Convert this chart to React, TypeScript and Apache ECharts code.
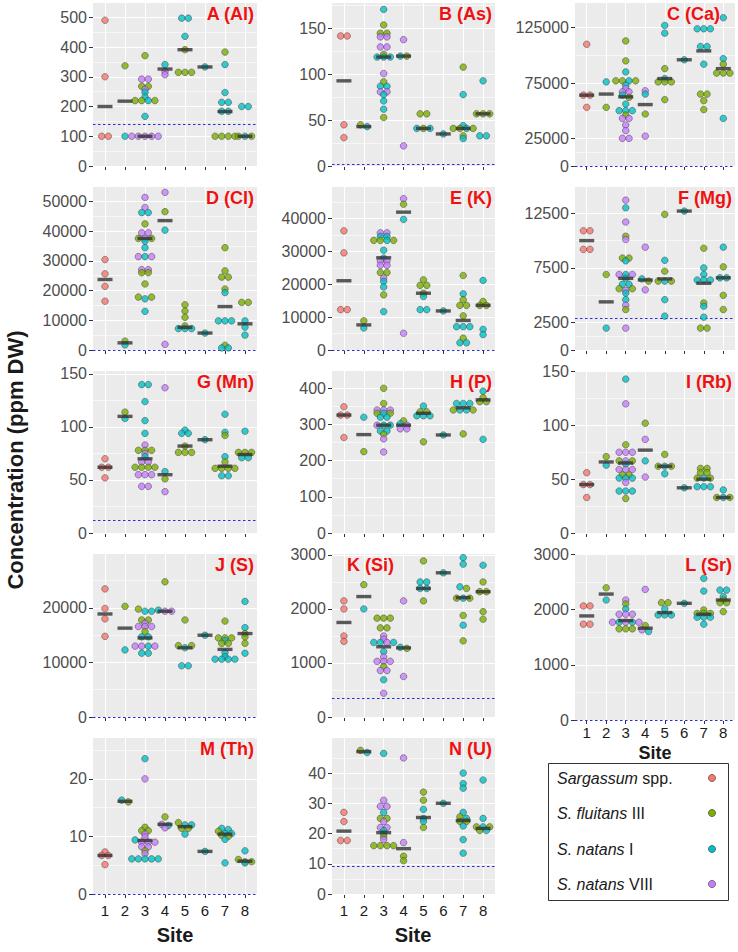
import React, { useEffect, useRef } from "react";
import * as echarts from "echarts";

type Pt = [number, string, number];

const groupCodes = ["R", "G", "C", "P"];
const groupColors = ["#F8766D", "#7CAE00", "#00BFC4", "#C77CFF"];
const groupItalic = ["Sargassum", "S. fluitans", "S. natans", "S. natans"];
const groupSuffix = [" spp.", " III", " I", " VIII"];
const siteLabels = ["1", "2", "3", "4", "5", "6", "7", "8"];
const panelTitles = ["A (Al)", "B (As)", "C (Ca)", "D (Cl)", "E (K)", "F (Mg)", "G (Mn)", "H (P)", "I (Rb)", "J (S)", "K (Si)", "L (Sr)", "M (Th)", "N (U)"];
const yMaxes = [548, 178, 147300, 54800, 49660, 14900, 152.8, 447.8, 150.5, 29900, 3018, 3005, 27.1, 51.6];
const yBreaks = [
  [0, 100, 200, 300, 400, 500],
  [0, 50, 100, 150],
  [0, 25000, 75000, 125000],
  [0, 10000, 20000, 30000, 40000, 50000],
  [0, 10000, 20000, 30000, 40000],
  [0, 2500, 7500, 12500],
  [0, 50, 100, 150],
  [0, 100, 200, 300, 400],
  [0, 50, 100, 150],
  [0, 10000, 20000],
  [0, 1000, 2000, 3000],
  [0, 1000, 2000, 3000],
  [0, 10, 20],
  [0, 10, 20, 30, 40],
];
const detectionLimits = [140, 2, 0, 0, 0, 2900, 12, null, null, 0, 340, 0, 0, 9.3];

const alMedians = [200, 218, 100, 326, 391, 333, 183, 100];
const alPts: Pt[] = [
  [1, "R", 490], [1, "R", 300], [1, "R", 100], [1, "R", 100],
  [2, "G", 337], [2, "C", 100],
  [3, "G", 371], [3, "P", 292], [3, "P", 292], [3, "G", 268], [3, "P", 258], [3, "G", 268], [3, "C", 248], [3, "C", 232],
  [3, "G", 220], [3, "G", 220], [3, "C", 220], [3, "G", 220], [3, "C", 167],
  [3, "P", 100], [3, "P", 100], [3, "P", 100], [3, "P", 100], [3, "P", 100],
  [4, "C", 341], [4, "P", 318], [4, "P", 307],
  [5, "C", 497], [5, "C", 497], [5, "C", 436], [5, "G", 391], [5, "G", 315], [5, "G", 315], [5, "G", 315],
  [6, "C", 333],
  [7, "G", 383], [7, "C", 341], [7, "C", 247], [7, "C", 214], [7, "C", 214], [7, "C", 184], [7, "C", 184],
  [7, "G", 100], [7, "G", 100], [7, "G", 100], [7, "G", 100],
  [8, "C", 200], [8, "C", 200], [8, "G", 100], [8, "C", 100], [8, "G", 100],
];

const asMedians = [93, 43, 119, 120, 41, 35, 41, 57];
const asPts: Pt[] = [
  [1, "R", 142], [1, "R", 142], [1, "R", 45], [1, "R", 31],
  [2, "G", 45], [2, "C", 43],
  [3, "C", 171], [3, "G", 154], [3, "G", 145], [3, "G", 145], [3, "P", 141], [3, "P", 141], [3, "P", 130], [3, "P", 130],
  [3, "G", 122], [3, "C", 119], [3, "C", 119], [3, "C", 119], [3, "P", 101], [3, "G", 92], [3, "C", 87], [3, "C", 87],
  [3, "P", 81], [3, "P", 81], [3, "C", 78], [3, "C", 71], [3, "C", 62], [3, "G", 53],
  [4, "P", 138], [4, "C", 120], [4, "G", 120], [4, "P", 22],
  [5, "G", 57], [5, "G", 57], [5, "C", 41], [5, "G", 41], [5, "C", 41],
  [6, "C", 35],
  [7, "G", 108], [7, "C", 78], [7, "C", 44], [7, "G", 41], [7, "G", 41], [7, "C", 41], [7, "G", 41], [7, "G", 33], [7, "C", 30],
  [8, "C", 93], [8, "G", 57], [8, "G", 57], [8, "G", 57], [8, "C", 33], [8, "C", 33],
];

const caMedians = [64000, 65000, 62500, 55500, 79000, 96000, 104000, 88000];
const caPts: Pt[] = [
  [1, "R", 110000], [1, "R", 64000], [1, "R", 64000], [1, "R", 53000],
  [2, "C", 76000], [2, "G", 53000],
  [3, "G", 113000], [3, "G", 95000], [3, "C", 85000], [3, "G", 77000], [3, "G", 77000], [3, "C", 77000], [3, "G", 77000],
  [3, "C", 73000], [3, "P", 70000], [3, "P", 67000], [3, "P", 67000], [3, "C", 64000], [3, "G", 62000], [3, "C", 56000],
  [3, "C", 50000], [3, "C", 50000], [3, "C", 50000], [3, "G", 46000], [3, "P", 43000], [3, "P", 43000], [3, "P", 37000],
  [3, "P", 32000], [3, "P", 25000], [3, "P", 25000],
  [4, "P", 68000], [4, "C", 65000], [4, "G", 47000], [4, "P", 27000],
  [5, "C", 127000], [5, "C", 120000], [5, "G", 88000], [5, "C", 79000], [5, "G", 76000], [5, "G", 76000], [5, "G", 76000], [5, "G", 60000],
  [6, "C", 96000],
  [7, "C", 124000], [7, "C", 124000], [7, "C", 124000], [7, "C", 108000], [7, "C", 108000], [7, "C", 92000],
  [7, "G", 65000], [7, "G", 65000], [7, "G", 59000], [7, "G", 51000],
  [8, "C", 134000], [8, "C", 97000], [8, "G", 92000], [8, "G", 84000], [8, "G", 84000], [8, "G", 84000], [8, "C", 43000],
];

const clMedians = [23700, 2400, 37500, 43500, 7600, 5700, 14600, 8800];
const clPts: Pt[] = [
  [1, "R", 30400], [1, "R", 25600], [1, "R", 21400], [1, "R", 16400],
  [2, "G", 3000], [2, "C", 1700],
  [3, "P", 51300], [3, "P", 47900], [3, "C", 46200], [3, "C", 46200], [3, "G", 42400], [3, "P", 39400], [3, "P", 39400],
  [3, "G", 37500], [3, "P", 37500], [3, "G", 37500], [3, "C", 36600], [3, "C", 34400], [3, "P", 31400], [3, "C", 31400],
  [3, "P", 31400], [3, "P", 27000], [3, "P", 27000], [3, "G", 26000], [3, "G", 26000], [3, "G", 22200], [3, "G", 17800],
  [3, "C", 17200], [3, "G", 17800], [3, "C", 13000],
  [4, "P", 53000], [4, "G", 46500], [4, "C", 40300], [4, "P", 1900],
  [5, "G", 15200], [5, "G", 13100], [5, "G", 11000], [5, "G", 8100], [5, "C", 7200], [5, "C", 7200], [5, "C", 7200],
  [6, "C", 5700],
  [7, "G", 34400], [7, "G", 26600], [7, "G", 24500], [7, "G", 24500], [7, "G", 20500], [7, "C", 19300],
  [7, "C", 9800], [7, "C", 9800], [7, "C", 9800], [7, "G", 1600], [7, "C", 700], [7, "C", 700],
  [8, "G", 16000], [8, "G", 16000], [8, "C", 9800], [8, "C", 7700], [8, "C", 5000],
];

const kMedians = [21100, 7650, 28100, 42000, 17300, 11900, 9000, 13600];
const kPts: Pt[] = [
  [1, "R", 36300], [1, "R", 29600], [1, "R", 12300], [1, "R", 12300],
  [2, "G", 8900], [2, "C", 6700],
  [3, "P", 35700], [3, "P", 35700], [3, "C", 34600], [3, "C", 34600], [3, "G", 33400], [3, "G", 33400], [3, "C", 33400],
  [3, "G", 33400], [3, "C", 30400], [3, "C", 28000], [3, "P", 27100], [3, "P", 27100], [3, "P", 25800], [3, "P", 25800],
  [3, "G", 23600], [3, "G", 23600], [3, "P", 21900], [3, "C", 20900], [3, "C", 19200], [3, "G", 16800], [3, "C", 11700],
  [4, "P", 46100], [4, "G", 44400], [4, "C", 39800], [4, "P", 5100],
  [5, "G", 21400], [5, "G", 19700], [5, "G", 19700], [5, "G", 17300], [5, "C", 16300], [5, "C", 12300], [5, "C", 12300],
  [6, "C", 11900],
  [7, "G", 22700], [7, "C", 17100], [7, "G", 15300], [7, "G", 13600], [7, "G", 13600], [7, "G", 10400],
  [7, "C", 7100], [7, "C", 7100], [7, "C", 7100], [7, "G", 3600], [7, "C", 2200], [7, "C", 2200],
  [8, "C", 21200], [8, "G", 14800], [8, "G", 13600], [8, "G", 13600], [8, "C", 6300], [8, "C", 4700],
];

const mgMedians = [10000, 4400, 6550, 6400, 6500, 12700, 6100, 6600];
const mgPts: Pt[] = [
  [1, "R", 10900], [1, "R", 10900], [1, "R", 9200], [1, "R", 9200],
  [2, "G", 6900], [2, "C", 2000],
  [3, "P", 13700], [3, "C", 13000], [3, "P", 11700], [3, "G", 10400], [3, "P", 10100], [3, "G", 8400], [3, "G", 8400],
  [3, "C", 8150], [3, "P", 6900], [3, "C", 6900], [3, "P", 6900], [3, "C", 6550], [3, "C", 6000], [3, "C", 6000],
  [3, "G", 5600], [3, "P", 5450], [3, "G", 5600], [3, "C", 5200], [3, "C", 4600], [3, "P", 4100], [3, "G", 3700], [3, "P", 2000],
  [4, "P", 9400], [4, "C", 6500], [4, "G", 6300], [4, "P", 5500],
  [5, "G", 12400], [5, "C", 8200], [5, "G", 7200], [5, "G", 6300], [5, "C", 6300], [5, "G", 6300], [5, "C", 4600], [5, "C", 3100],
  [6, "C", 12700],
  [7, "G", 9300], [7, "C", 7500], [7, "C", 6900], [7, "C", 6400], [7, "C", 6400], [7, "C", 6400], [7, "G", 4300],
  [7, "C", 4000], [7, "C", 3000], [7, "G", 2000], [7, "G", 2000],
  [8, "C", 9400], [8, "G", 7600], [8, "C", 6600], [8, "C", 6600], [8, "G", 5000], [8, "G", 3700],
];

const mnMedians = [62, 110, 70, 55, 82, 88, 63, 74];
const mnPts: Pt[] = [
  [1, "R", 70], [1, "R", 62], [1, "R", 62], [1, "R", 52],
  [2, "G", 114], [2, "C", 108],
  [3, "C", 140], [3, "C", 140], [3, "C", 124], [3, "C", 106], [3, "C", 94], [3, "P", 83], [3, "G", 78], [3, "G", 78],
  [3, "G", 78], [3, "P", 75], [3, "C", 72], [3, "P", 67], [3, "P", 67], [3, "G", 62], [3, "G", 62], [3, "G", 62],
  [3, "G", 62], [3, "P", 55], [3, "P", 55], [3, "P", 55], [3, "P", 44], [3, "P", 44],
  [4, "P", 137], [4, "C", 58], [4, "G", 51], [4, "P", 39],
  [5, "C", 97], [5, "C", 94], [5, "C", 94], [5, "G", 82], [5, "G", 76], [5, "G", 76], [5, "G", 76],
  [6, "C", 88],
  [7, "C", 112], [7, "C", 95], [7, "G", 92], [7, "C", 72], [7, "G", 67], [7, "G", 61], [7, "G", 61], [7, "G", 61],
  [7, "G", 61], [7, "C", 54], [7, "C", 54],
  [8, "C", 96], [8, "G", 76], [8, "G", 76], [8, "G", 76], [8, "C", 71], [8, "C", 71],
];

const pMedians = [326, 272, 298, 298, 331, 271, 346, 368];
const pPts: Pt[] = [
  [1, "R", 349], [1, "R", 326], [1, "R", 326], [1, "R", 264],
  [2, "C", 320], [2, "G", 225],
  [3, "G", 400], [3, "G", 358], [3, "P", 340], [3, "P", 340], [3, "P", 340], [3, "G", 331], [3, "C", 331], [3, "G", 331],
  [3, "C", 320], [3, "C", 320], [3, "P", 298], [3, "C", 298], [3, "C", 298], [3, "C", 282], [3, "C", 282], [3, "G", 273],
  [3, "P", 260], [3, "P", 224],
  [4, "G", 310], [4, "C", 302], [4, "P", 298], [4, "P", 288], [4, "P", 288],
  [5, "C", 351], [5, "G", 335], [5, "G", 335], [5, "C", 324], [5, "C", 324], [5, "C", 324], [5, "G", 252],
  [6, "C", 271],
  [7, "C", 358], [7, "C", 358], [7, "C", 358], [7, "G", 340], [7, "C", 340], [7, "C", 340], [7, "G", 340], [7, "G", 274],
  [8, "C", 392], [8, "G", 374], [8, "G", 363], [8, "G", 363], [8, "C", 259],
];

const rbMedians = [45, 66, 65, 77, 62, 42, 50, 33];
const rbPts: Pt[] = [
  [1, "R", 56], [1, "R", 45], [1, "R", 45], [1, "R", 33],
  [2, "G", 71], [2, "C", 63],
  [3, "C", 143], [3, "P", 120], [3, "G", 82], [3, "P", 75], [3, "P", 75], [3, "P", 75], [3, "G", 67], [3, "P", 67],
  [3, "G", 67], [3, "C", 64], [3, "P", 59], [3, "P", 59], [3, "P", 59], [3, "G", 54], [3, "G", 54], [3, "C", 51],
  [3, "C", 51], [3, "C", 51], [3, "P", 47], [3, "C", 39], [3, "C", 39], [3, "C", 39], [3, "G", 32],
  [4, "G", 102], [4, "P", 87], [4, "C", 67], [4, "P", 52],
  [5, "G", 73], [5, "G", 62], [5, "C", 62], [5, "G", 62], [5, "C", 55],
  [6, "C", 42],
  [7, "G", 60], [7, "G", 60], [7, "G", 56], [7, "G", 56], [7, "G", 51], [7, "C", 51], [7, "G", 51], [7, "C", 43],
  [7, "C", 43], [7, "C", 43],
  [8, "C", 40], [8, "G", 33], [8, "C", 33], [8, "G", 33],
];

const sMedians = [18900, 16300, 14500, 19400, 12700, 15000, 12400, 15300];
const sPts: Pt[] = [
  [1, "R", 23500], [1, "R", 19900], [1, "R", 18000], [1, "R", 14800],
  [2, "G", 20300], [2, "C", 12300],
  [3, "G", 19800], [3, "C", 19400], [3, "C", 19400], [3, "G", 17800], [3, "G", 17800], [3, "P", 17200], [3, "P", 16600],
  [3, "P", 16600], [3, "P", 16600], [3, "G", 15700], [3, "C", 14700], [3, "C", 14700], [3, "P", 13000], [3, "P", 13000],
  [3, "C", 13000], [3, "P", 13000], [3, "C", 11700], [3, "C", 11700],
  [4, "G", 24800], [4, "C", 19600], [4, "P", 19400], [4, "P", 19400],
  [5, "G", 17800], [5, "G", 13100], [5, "C", 12700], [5, "G", 13100], [5, "C", 9400], [5, "C", 9400],
  [6, "C", 15000],
  [7, "G", 17600], [7, "G", 14500], [7, "G", 14500], [7, "G", 14500], [7, "C", 14000], [7, "G", 13500], [7, "G", 13500],
  [7, "C", 11800], [7, "C", 11100], [7, "C", 10600], [7, "C", 10600], [7, "C", 10600], [7, "C", 10600],
  [8, "C", 21200], [8, "C", 16400], [8, "G", 15300], [8, "G", 14700], [8, "G", 13500], [8, "C", 11700],
];

const siMedians = [1750, 2230, 1300, 1280, 2380, 2670, 2210, 2320];
const siPts: Pt[] = [
  [1, "R", 2150], [1, "R", 2000], [1, "R", 1500], [1, "R", 1400],
  [2, "G", 2450], [2, "C", 2000],
  [3, "G", 1830], [3, "G", 1830], [3, "G", 1830], [3, "G", 1650], [3, "G", 1650], [3, "P", 1500], [3, "P", 1440],
  [3, "C", 1380], [3, "C", 1380], [3, "P", 1380], [3, "C", 1380], [3, "C", 1210], [3, "P", 1110], [3, "P", 1030],
  [3, "P", 1030], [3, "P", 1030], [3, "G", 935], [3, "P", 860], [3, "P", 860], [3, "C", 690], [3, "P", 440],
  [4, "P", 2150], [4, "C", 1290], [4, "G", 1270], [4, "P", 750],
  [5, "G", 2890], [5, "C", 2500], [5, "C", 2500], [5, "C", 2380], [5, "C", 2380], [5, "G", 2150],
  [6, "C", 2670],
  [7, "C", 2950], [7, "C", 2830], [7, "C", 2410], [7, "G", 2380], [7, "G", 2200], [7, "C", 2200], [7, "G", 2200],
  [7, "G", 1880], [7, "C", 1700], [7, "G", 1410],
  [8, "C", 2810], [8, "G", 2500], [8, "G", 2320], [8, "G", 2320], [8, "G", 1950], [8, "G", 1810],
];

const srMedians = [1884, 2280, 1800, 1662, 1944, 2112, 1914, 2172];
const srPts: Pt[] = [
  [1, "R", 2064], [1, "R", 2064], [1, "R", 1734], [1, "R", 1734],
  [2, "G", 2394], [2, "C", 2172],
  [3, "P", 2172], [3, "G", 2100], [3, "C", 2010], [3, "P", 1914], [3, "P", 1914], [3, "P", 1914], [3, "P", 1770],
  [3, "C", 1770], [3, "P", 1770], [3, "C", 1770], [3, "P", 1770], [3, "G", 1650], [3, "G", 1650], [3, "G", 1650],
  [4, "P", 2364], [4, "G", 1710], [4, "P", 1632], [4, "C", 1602],
  [5, "G", 2124], [5, "G", 2124], [5, "C", 2010], [5, "C", 1902], [5, "C", 1902], [5, "C", 1902],
  [6, "C", 2112],
  [7, "C", 2562], [7, "C", 2334], [7, "G", 1992], [7, "G", 1930], [7, "G", 1930], [7, "G", 1930], [7, "C", 1860],
  [7, "C", 1860], [7, "C", 1860], [7, "C", 1734],
  [8, "C", 2352], [8, "C", 2352], [8, "C", 2232], [8, "G", 2172], [8, "G", 2124], [8, "G", 2124], [8, "G", 1962],
];

const thMedians = [6.7, 16.1, 9.3, 12.1, 11.7, 7.4, 10.4, 5.7];
const thPts: Pt[] = [
  [1, "R", 7.3], [1, "R", 6.7], [1, "R", 6.7], [1, "R", 5.1],
  [2, "C", 16.3], [2, "G", 16.0],
  [3, "C", 23.5], [3, "P", 20.0], [3, "G", 11.6], [3, "G", 11.0], [3, "G", 11.0], [3, "P", 10.4], [3, "P", 9.9],
  [3, "C", 9.4], [3, "P", 9.0], [3, "P", 9.0], [3, "P", 9.0], [3, "P", 8.2], [3, "P", 8.2], [3, "G", 7.5], [3, "P", 7.0],
  [3, "C", 6.1], [3, "C", 6.1], [3, "C", 6.1], [3, "C", 6.1], [3, "C", 6.1],
  [4, "G", 13.4], [4, "P", 12.1], [4, "C", 11.9], [4, "P", 11.5],
  [5, "G", 12.4], [5, "C", 12.0], [5, "C", 12.0], [5, "G", 11.4], [5, "G", 11.4], [5, "C", 10.4],
  [6, "C", 7.4],
  [7, "C", 11.4], [7, "C", 11.2], [7, "G", 10.9], [7, "C", 10.5], [7, "C", 10.5], [7, "G", 10.2], [7, "G", 10.0],
  [7, "C", 9.5], [7, "C", 5.4],
  [8, "C", 7.5], [8, "G", 6.0], [8, "G", 5.6], [8, "G", 5.6], [8, "C", 5.4],
];

const uMedians = [20.8, 47.1, 20.3, 15, 25.3, 30, 24.3, 21.7];
const uPts: Pt[] = [
  [1, "R", 27], [1, "R", 24], [1, "R", 17.7], [1, "R", 17.7],
  [2, "G", 47.5], [2, "C", 46.8],
  [3, "C", 46.5], [3, "P", 31], [3, "P", 29], [3, "P", 29], [3, "C", 27], [3, "G", 25], [3, "G", 25], [3, "P", 24],
  [3, "P", 22], [3, "P", 22], [3, "C", 21], [3, "C", 20], [3, "G", 19], [3, "P", 18], [3, "G", 16], [3, "G", 16],
  [3, "G", 16], [3, "G", 16],
  [4, "P", 45], [4, "P", 17], [4, "G", 12.5], [4, "G", 11],
  [5, "G", 33.7], [5, "G", 31], [5, "C", 28], [5, "C", 25], [5, "C", 24], [5, "G", 22],
  [6, "C", 30],
  [7, "C", 40], [7, "C", 36.5], [7, "C", 35], [7, "C", 27], [7, "G", 25.5], [7, "C", 25], [7, "G", 24], [7, "G", 24],
  [7, "C", 22.5], [7, "C", 18], [7, "C", 13.5],
  [8, "C", 37.7], [8, "C", 25], [8, "G", 22.2], [8, "C", 22.2], [8, "G", 22.2], [8, "G", 21], [8, "C", 21],
];

const panelPoints = [alPts, asPts, caPts, clPts, kPts, mgPts, mnPts, pPts, rbPts, sPts, siPts, srPts, thPts, uPts];
const panelMedians = [alMedians, asMedians, caMedians, clMedians, kMedians, mgMedians, mnMedians, pMedians, rbMedians, sMedians, siMedians, srMedians, thMedians, uMedians];

// layout (pixels)
const COLS = [{ left: 93, width: 164 }, { left: 332, width: 163 }, { left: 575, width: 160 }];
const ROWS12 = [[3, 166], [187, 350], [371, 533], [554, 717], [738, 894]];
const ROWS3 = [[3, 166], [187, 350], [371, 533], [554, 720]];
const CELLS = [[0, 0], [1, 0], [2, 0], [0, 1], [1, 1], [2, 1], [0, 2], [1, 2], [2, 2], [0, 3], [1, 3], [2, 3], [0, 4], [1, 4]];
const FONT = '"Liberation Sans", Arial, sans-serif';
const DOT = 6.6;

function minorBreaks(br: number[], max: number) {
  const out: number[] = [];
  for (let k = 0; k < br.length - 1; k++) out.push((br[k] + br[k + 1]) / 2);
  const step = br[br.length - 1] - br[br.length - 2];
  const extra = br[br.length - 1] + step / 2;
  if (extra < max) out.push(extra);
  return out;
}

function placeDots(pts: Pt[], pxX: number, pxY: number) {
  const bySite: Record<number, { v: number; items: Pt[] }[]> = {};
  pts.forEach((p) => {
    const rows = bySite[p[0]] || (bySite[p[0]] = []);
    let row = rows.find((r) => Math.abs(r.v - p[2]) * pxY < 2.5);
    if (!row) {
      row = { v: p[2], items: [] };
      rows.push(row);
    }
    row.items.push(p);
  });
  const out: any[] = [];
  Object.keys(bySite).forEach((s) => {
    bySite[Number(s)].forEach((row) => {
      const n = row.items.length;
      row.items.forEach((p, k) => {
        const dx = ((k - (n - 1) / 2) * DOT) / pxX;
        out.push({
          value: [p[0] + dx, p[2]],
          itemStyle: { color: groupColors[groupCodes.indexOf(p[1])] },
        });
      });
    });
  });
  return out;
}

function buildOption() {
  const grid: any[] = [];
  const xAxis: any[] = [];
  const yAxis: any[] = [];
  const series: any[] = [];
  const graphic: any[] = [];
  const sites = [1, 2, 3, 4, 5, 6, 7, 8];

  panelPoints.forEach((pts, i) => {
    const [c, r] = CELLS[i];
    const col = COLS[c];
    const [top, bottom] = (c === 2 ? ROWS3 : ROWS12)[r];
    const height = bottom - top;
    const isBottom = (c < 2 && r === 4) || (c === 2 && r === 3);
    const pxX = col.width / 8.2;
    const pxY = height / yMaxes[i];

    grid.push({ left: col.left, top, width: col.width, height, show: true, backgroundColor: "#EBEBEB", borderWidth: 0 });
    xAxis.push({
      type: "value", gridIndex: i, min: 0.4, max: 8.6,
      axisLine: { show: false }, splitLine: { show: false },
      axisTick: { show: true, customValues: sites, length: 4, lineStyle: { color: "#333333", width: 1 } },
      axisLabel: {
        show: isBottom, customValues: sites, margin: c === 2 ? 5 : 9, color: "#1A1A1A", fontSize: 15, fontFamily: FONT,
        formatter: (v: number) => siteLabels[Math.round(v) - 1],
      },
    });
    yAxis.push({
      type: "value", gridIndex: i, min: 0, max: yMaxes[i],
      axisLine: { show: false }, splitLine: { show: false },
      axisTick: { show: true, customValues: yBreaks[i], length: 4, lineStyle: { color: "#333333", width: 1 } },
      axisLabel: {
        customValues: yBreaks[i], margin: 6, color: "#4D4D4D", fontSize: 16, fontFamily: FONT,
        formatter: (v: number) => String(v),
      },
    });

    const gridLines: any[] = [];
    minorBreaks(yBreaks[i], yMaxes[i]).forEach((v) =>
      gridLines.push({ yAxis: v, lineStyle: { color: "#FFFFFF", width: 0.6, type: "solid" } })
    );
    yBreaks[i].forEach((v) => gridLines.push({ yAxis: v, lineStyle: { color: "#FFFFFF", width: 1.1, type: "solid" } }));
    sites.forEach((s) => gridLines.push({ xAxis: s, lineStyle: { color: "#FFFFFF", width: 1.1, type: "solid" } }));

    series.push({
      type: "scatter", xAxisIndex: i, yAxisIndex: i, z: 1, silent: true,
      data: [[1, 0]], symbolSize: 0, itemStyle: { opacity: 0 },
      markLine: { z: 1, silent: true, symbol: ["none", "none"], label: { show: false }, data: gridLines },
    });

    const dl = detectionLimits[i];
    if (dl !== null) {
      series.push({
        type: "scatter", xAxisIndex: i, yAxisIndex: i, z: 2, silent: true,
        data: [[1, 0]], symbolSize: 0, itemStyle: { opacity: 0 },
        markLine: {
          z: 2, silent: true, symbol: ["none", "none"], label: { show: false },
          data: [{ yAxis: dl, lineStyle: { color: "#2B2BE0", width: 1.2, type: [2.5, 2.5] } }],
        },
      });
    }

    series.push({
      type: "scatter", xAxisIndex: i, yAxisIndex: i, z: 6, silent: true,
      symbol: "circle", symbolSize: DOT,
      itemStyle: { borderColor: "#3A3A3A", borderWidth: 0.6 },
      data: placeDots(pts, pxX, pxY),
    });

    series.push({
      type: "scatter", xAxisIndex: i, yAxisIndex: i, z: 7, silent: true,
      symbol: "rect", symbolSize: [15, 3.4],
      itemStyle: { color: "#333333" },
      data: panelMedians[i].map((m, k) => [k + 1, m]),
    });

    const isK = i === 10;
    const right = i === 2 ? 720 : col.left + col.width - 3;
    graphic.push({
      type: "text", x: isK ? col.left + 15 : right, y: top + 10.5, z: 10,
      style: {
        text: panelTitles[i], fill: "#EE1111", fontSize: 18, fontWeight: "bold", fontFamily: FONT,
        align: isK ? "left" : "right", verticalAlign: "middle",
        textAlign: isK ? "left" : "right", textVerticalAlign: "middle",
      },
    });
  });

  // y-axis title
  graphic.push({
    type: "text", x: 15, y: 460, rotation: Math.PI / 2, z: 10,
    style: {
      text: "Concentration (ppm DW)", fill: "#1A1A1A", fontSize: 22, fontWeight: "bold", fontFamily: FONT,
      align: "center", verticalAlign: "middle", textAlign: "center", textVerticalAlign: "middle",
    },
  });
  // Site titles
  const siteTitlePos = [[175, 935, 20], [413, 935, 20], [655, 753, 18]];
  siteTitlePos.forEach(([x, y, fs]) =>
    graphic.push({
      type: "text", x, y, z: 12,
      style: {
        text: "Site", fill: "#1A1A1A", fontSize: fs, fontWeight: "bold", fontFamily: FONT,
        align: "center", verticalAlign: "middle", textAlign: "center", textVerticalAlign: "middle",
      },
    })
  );

  // legend
  graphic.push({
    type: "rect", z: 10,
    shape: { x: 548.5, y: 763.5, width: 180, height: 137 },
    style: { fill: "#FFFFFF", stroke: "#333333", lineWidth: 1 },
  });
  const legendY = [778, 813, 849, 884];
  groupCodes.forEach((_, g) => {
    graphic.push({
      type: "text", x: 557, y: legendY[g], z: 11,
      style: {
        text: `{i|${groupItalic[g]}}{n|${groupSuffix[g]}}`,
        fill: "#1A1A1A", fontSize: 16, fontFamily: FONT, verticalAlign: "middle", textVerticalAlign: "middle",
        rich: {
          i: { fontStyle: "italic", fontSize: 16, fontFamily: FONT, fill: "#1A1A1A", color: "#1A1A1A" },
          n: { fontSize: 16, fontFamily: FONT, fill: "#1A1A1A", color: "#1A1A1A" },
        },
      },
    });
    graphic.push({
      type: "circle", z: 11,
      shape: { cx: 712, cy: legendY[g], r: 3.6 },
      style: { fill: groupColors[g], stroke: "#3A3A3A", lineWidth: 0.6 },
    });
  });

  return {
    animation: false,
    backgroundColor: "#FFFFFF",
    textStyle: { fontFamily: FONT },
    grid, xAxis, yAxis, series, graphic,
  };
}

export default function App() {
  const ref = useRef<HTMLDivElement>(null);
  useEffect(() => {
    if (!ref.current) return;
    const chart = echarts.init(ref.current, undefined, { renderer: "svg" });
    chart.setOption(buildOption() as any);
    return () => chart.dispose();
  }, []);
  return <div ref={ref} style={{ position: "absolute", left: 0, top: 0, width: 738, height: 952 }} />;
}
